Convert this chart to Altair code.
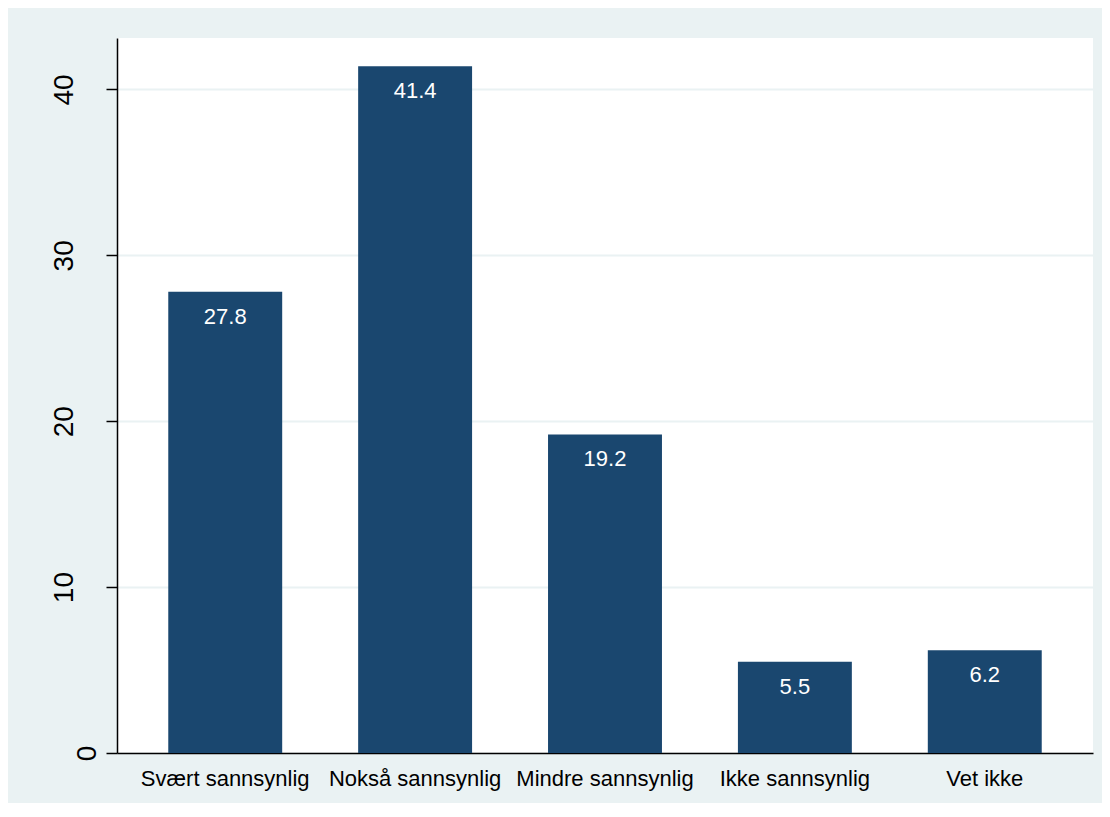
import altair as alt
import pandas as pd

categories = ["Svært sannsynlig", "Nokså sannsynlig", "Mindre sannsynlig", "Ikke sannsynlig", "Vet ikke"]
values = [27.8, 41.4, 19.2, 5.5, 6.2]
y_ticks = [0, 10, 20, 30, 40]

df = pd.DataFrame({"cat": categories, "val": values})

FONT = "Liberation Sans"
BG = "#eaf2f3"
NAVY = "#1a476f"

x = alt.X(
    "cat:N",
    sort=categories,
    title=None,
    scale=alt.Scale(paddingInner=0.4, paddingOuter=0.27),
    axis=alt.Axis(
        labelAngle=0,
        ticks=False,
        tickSize=0,
        labelPadding=32,
        labelBaseline="alphabetic",
        labelFontSize=22,
        labelFont=FONT,
        labelColor="#000000",
        domainColor="#000000",
        domainWidth=1.5,
        grid=False,
    ),
)

y = alt.Y(
    "val:Q",
    title=None,
    scale=alt.Scale(domain=[0, 43.1], nice=False, zero=True),
    axis=alt.Axis(
        values=y_ticks,
        labelAngle=270,
        labelAlign="center",
        labelBaseline="alphabetic",
        labelFontSize=28,
        labelFont=FONT,
        labelColor="#000000",
        labelPadding={"condition": {"test": "datum.value === 0", "value": 11}, "value": 34},
        tickSize=11,
        tickWidth=1.5,
        tickColor="#000000",
        domainColor="#000000",
        domainWidth=1.5,
        grid=True,
        gridColor=BG,
        gridWidth=2,
    ),
)

bars = alt.Chart(df).mark_bar(color=NAVY).encode(x=x, y=y)

labels = alt.Chart(df).mark_text(
    color="white", fontSize=22, font=FONT, baseline="alphabetic", align="center", dy=32
).encode(x=alt.X("cat:N", sort=categories), y=alt.Y("val:Q"), text=alt.Text("val:Q", format=".1f"))

chart = (
    alt.layer(bars, labels)
    .properties(
        width=976,
        height=715,
        autosize=alt.AutoSizeParams(type="none"),
        padding={"left": 109, "top": 30, "right": 9, "bottom": 50},
        background=BG,
    )
    .configure_view(fill="white", stroke=None)
)

chart.save("out.html", embed_options={"renderer": "svg", "actions": False})
